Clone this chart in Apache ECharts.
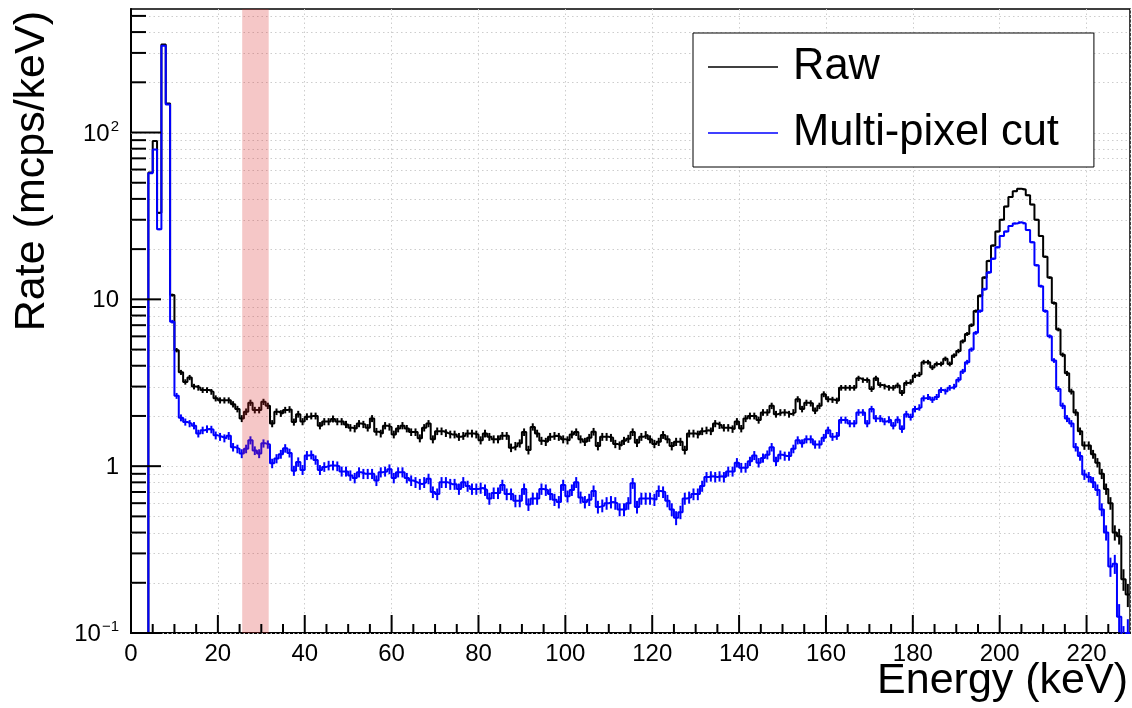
<!DOCTYPE html>
<html>
<head>
<meta charset="utf-8">
<title>Energy spectrum</title>
<script src="https://cdn.jsdelivr.net/npm/echarts@6/dist/echarts.min.js"></script>
<style>
  html, body { margin: 0; padding: 0; background: #ffffff; }
  #chart { width: 1132px; height: 708px; }
</style>
</head>
<body>
<div id="chart"></div>
<script>
// Count rate per 1 keV bin (mcps/keV); bin i covers [i, i+1) keV.
const rawRate = [
  0, 0, 0, 0, 57.5, 89, 33, 337, 149, 10.6,
  4.96, 3.65, 3.2, 3.4, 3.0, 2.95, 2.86, 2.86, 2.79, 2.55,
  2.48, 2.48, 2.48, 2.35, 2.2, 1.93, 2.12, 2.4, 2.17, 2.17,
  2.43, 2.3, 1.8, 2.12, 2.07, 2.17, 2.19, 1.84, 2.05, 1.85,
  1.98, 2.0, 2.0, 1.75, 1.85, 1.85, 1.92, 1.85, 1.85, 1.78,
  1.7, 1.68, 1.8, 1.78, 1.7, 1.93, 1.61, 1.57, 1.75, 1.72,
  1.55, 1.68, 1.75, 1.68, 1.6, 1.6, 1.47, 1.7, 1.8, 1.45,
  1.62, 1.62, 1.58, 1.55, 1.55, 1.5, 1.52, 1.57, 1.57, 1.55,
  1.43, 1.57, 1.5, 1.45, 1.45, 1.52, 1.52, 1.29, 1.32, 1.37,
  1.6, 1.25, 1.72, 1.57, 1.42, 1.4, 1.5, 1.52, 1.5, 1.45,
  1.43, 1.55, 1.6, 1.45, 1.4, 1.48, 1.61, 1.32, 1.5, 1.5,
  1.48, 1.36, 1.33, 1.42, 1.46, 1.6, 1.38, 1.5, 1.54, 1.45,
  1.36, 1.4, 1.54, 1.45, 1.32, 1.4, 1.4, 1.25, 1.57, 1.57,
  1.55, 1.62, 1.64, 1.62, 1.8, 1.76, 1.7, 1.7, 1.67, 1.85,
  1.68, 1.93, 2.0, 2.0, 1.89, 2.1, 2.1, 2.3, 2.05, 2.1,
  2.1, 2.05, 2.1, 2.52, 2.2, 2.4, 2.38, 2.15, 2.3, 2.7,
  2.52, 2.5, 2.47, 2.95, 2.95, 2.95, 2.95, 3.36, 3.28, 3.28,
  2.9, 3.36, 3.07, 3.0, 2.95, 2.95, 3.05, 2.75, 3.15, 3.2,
  3.5, 3.55, 4.2, 4.2, 3.9, 4.1, 4.1, 4.4, 4.1, 4.6,
  4.9, 5.6, 6.2, 7.0, 8.5, 10.5, 13.5, 17, 21, 25.5,
  30, 36, 41, 44.5, 46, 45.5, 42, 37, 30, 24,
  18, 13.5, 9.5, 6.6, 4.65, 3.6, 2.8, 2.1, 1.62, 1.33,
  1.33, 1.18, 1.05, 0.9, 0.73, 0.6, 0.4, 0.38, 0.21, 0.17
];
// Statistical uncertainty per bin, in units of 0.001 mcps/keV.
const rawErr = [
  0, 0, 0, 0, 506, 629, 383, 1224, 814, 217,
  149, 127, 119, 123, 116, 115, 113, 113, 111, 107,
  105, 105, 105, 102, 99, 93, 97, 103, 98, 98,
  104, 101, 89, 97, 96, 98, 99, 90, 96, 91,
  94, 94, 94, 88, 91, 91, 92, 91, 91, 89,
  87, 86, 89, 89, 87, 93, 85, 84, 88, 87,
  83, 86, 88, 86, 84, 84, 81, 87, 89, 80,
  85, 85, 84, 83, 83, 82, 82, 84, 84, 83,
  80, 84, 82, 80, 80, 82, 82, 76, 77, 78,
  84, 75, 87, 84, 79, 79, 82, 82, 82, 80,
  80, 83, 84, 80, 79, 81, 85, 77, 82, 82,
  81, 78, 77, 79, 81, 84, 78, 82, 83, 80,
  78, 79, 83, 80, 77, 79, 79, 75, 84, 84,
  83, 85, 85, 85, 89, 88, 87, 87, 86, 91,
  86, 93, 94, 94, 92, 97, 97, 101, 96, 97,
  97, 96, 97, 106, 99, 103, 103, 98, 101, 110,
  106, 105, 105, 115, 115, 115, 115, 122, 121, 121,
  114, 122, 117, 116, 115, 115, 116, 111, 118, 119,
  125, 126, 137, 137, 132, 135, 135, 140, 135, 143,
  148, 158, 166, 176, 194, 216, 245, 275, 306, 337,
  365, 400, 427, 445, 452, 450, 432, 406, 365, 327,
  283, 245, 206, 171, 144, 127, 112, 97, 85, 77,
  77, 72, 68, 63, 57, 52, 42, 41, 31, 27
];
const cutRate = [
  0, 0, 0, 0, 57, 79, 26.3, 331, 147, 7.35,
  2.64, 1.95, 1.84, 1.8, 1.75, 1.57, 1.64, 1.67, 1.66, 1.53,
  1.5, 1.47, 1.52, 1.3, 1.27, 1.19, 1.27, 1.43, 1.24, 1.19,
  1.37, 1.35, 1.04, 1.11, 1.18, 1.28, 1.2, 0.94, 1.06, 0.95,
  1.16, 1.17, 1.09, 0.95, 0.99, 1.01, 1.01, 1.0, 0.93, 0.93,
  0.88, 0.85, 0.92, 0.9, 0.9, 0.9, 0.82, 0.92, 0.93, 0.96,
  0.85, 0.92, 0.92, 0.85, 0.82, 0.8, 0.78, 0.8, 0.84, 0.7,
  0.68, 0.8, 0.8, 0.78, 0.78, 0.73, 0.8, 0.76, 0.73, 0.73,
  0.74, 0.72, 0.64, 0.69, 0.69, 0.77, 0.68, 0.68, 0.62, 0.62,
  0.73, 0.59, 0.64, 0.64, 0.73, 0.72, 0.68, 0.63, 0.61, 0.77,
  0.66, 0.72, 0.8, 0.65, 0.61, 0.63, 0.71, 0.57, 0.58, 0.6,
  0.61, 0.6, 0.55, 0.55, 0.6, 0.79, 0.57, 0.64, 0.64, 0.64,
  0.63, 0.71, 0.7, 0.62, 0.55, 0.49, 0.53, 0.64, 0.65, 0.68,
  0.68, 0.76, 0.86, 0.87, 0.86, 0.87, 0.86, 0.93, 0.93, 1.05,
  0.98, 0.98, 1.07, 1.16, 1.05, 1.12, 1.17, 1.3, 1.07, 1.17,
  1.15, 1.15, 1.27, 1.43, 1.37, 1.45, 1.45, 1.35, 1.35, 1.48,
  1.64, 1.5, 1.52, 1.89, 1.89, 1.8, 1.8, 2.1, 2.1, 1.8,
  2.2, 1.93, 1.93, 1.85, 1.9, 1.75, 1.9, 1.67, 2.05, 1.97,
  2.2, 2.25, 2.55, 2.6, 2.5, 2.6, 2.86, 2.8, 2.95, 3.0,
  3.3, 3.7, 4.2, 5.0, 6.3, 8.5, 11.5, 14.5, 17.5, 20.5,
  24, 25.5, 27.5, 28.5, 29, 28.5, 26, 22, 16, 12,
  8.5, 6.0, 4.3, 2.9, 2.3, 1.93, 1.8, 1.3, 1.15, 0.89,
  0.86, 0.8, 0.72, 0.55, 0.4, 0.25, 0.26, 0.125, 0.09, 0.1
];
const cutErr = [
  0, 0, 0, 0, 504, 593, 342, 1214, 809, 181,
  108, 93, 90, 89, 88, 84, 85, 86, 86, 83,
  82, 81, 82, 76, 75, 73, 75, 80, 74, 73,
  78, 77, 68, 70, 72, 75, 73, 65, 69, 65,
  72, 72, 70, 65, 66, 67, 67, 67, 64, 64,
  63, 61, 64, 63, 63, 63, 60, 64, 64, 65,
  61, 64, 64, 61, 60, 60, 59, 60, 61, 56,
  55, 60, 60, 59, 59, 57, 60, 58, 57, 57,
  57, 57, 53, 55, 55, 59, 55, 55, 53, 53,
  57, 51, 53, 53, 57, 57, 55, 53, 52, 59,
  54, 57, 60, 54, 52, 53, 56, 50, 51, 52,
  52, 52, 49, 49, 52, 59, 50, 53, 53, 53,
  53, 56, 56, 53, 49, 47, 49, 53, 54, 55,
  55, 58, 62, 62, 62, 62, 62, 64, 64, 68,
  66, 66, 69, 72, 68, 71, 72, 76, 69, 72,
  72, 72, 75, 80, 78, 80, 80, 77, 77, 81,
  85, 82, 82, 92, 92, 89, 89, 97, 97, 89,
  99, 93, 93, 91, 92, 88, 92, 86, 96, 94,
  99, 100, 107, 108, 105, 108, 113, 112, 115, 116,
  121, 128, 137, 149, 167, 194, 226, 254, 279, 302,
  327, 337, 350, 356, 359, 356, 340, 313, 267, 231,
  194, 163, 138, 114, 101, 93, 89, 76, 72, 63,
  62, 60, 57, 49, 42, 33, 34, 24, 20, 21
];

const seriesNames = ['Raw', 'Multi-pixel cut'];
const seriesColors = ['#000000', '#0000ff'];
const xTickValues = [0, 20, 40, 60, 80, 100, 120, 140, 160, 180, 200, 220];
const xMinorStep = 5;
const yMajorTicks = [0.1, 1, 10, 100];
const yMinorTicks = [0.2, 0.3, 0.4, 0.5, 0.6, 0.7, 0.8, 0.9,
                     2, 3, 4, 5, 6, 7, 8, 9,
                     20, 30, 40, 50, 60, 70, 80, 90,
                     200, 300, 400, 500];
const selectedRange = [25.6, 31.7];   // shaded energy window, keV

const BIN_WIDTH = 1;
const X_MIN = 0, X_MAX = 230;
const Y_MIN = 0.1, Y_MAX = 550;
const FONT = '"Liberation Sans", Arial, Helvetica, sans-serif';
const GRID_COLOR = '#cdcdcd';

// Histogram outline: one point per lower bin edge, plus the closing upper edge.
// Empty bins sit on the bottom of the log axis.
function histPoints(rates) {
  const pts = rates.map((v, i) => [X_MIN + i * BIN_WIDTH, v > 0 ? v : Y_MIN]);
  pts.push([X_MIN + rates.length * BIN_WIDTH, pts[pts.length - 1][1]]);
  return pts;
}
// Error bar data at bin centres.
function errPoints(rates, errs) {
  const out = [];
  rates.forEach((v, i) => {
    if (v > 0) out.push([X_MIN + (i + 0.5) * BIN_WIDTH, v, errs[i] / 1000]);
  });
  return out;
}
function errorBarRenderer(color) {
  return function (params, api) {
    const cs = params.coordSys;
    const x = api.value(0), v = api.value(1), e = api.value(2);
    const hi = api.coord([x, v + e]);
    const lo = api.coord([x, Math.max(v - e, Y_MIN * 0.1)]);
    const y1 = Math.max(hi[1], cs.y);
    const y2 = Math.min(lo[1], cs.y + cs.height);
    if (!(y2 > y1)) return null;
    return {
      type: 'line',
      shape: { x1: hi[0], y1: y1, x2: hi[0], y2: y2 },
      style: { stroke: color, lineWidth: 2 }
    };
  };
}

// Tick marks of both axes, pointing into the frame: [axis, value, length]
const xMinorTicks = [];
xTickValues.forEach(t => {
  for (let k = 1; k * xMinorStep < 20; k++) {
    const v = t + k * xMinorStep;
    if (v < X_MAX) xMinorTicks.push(v);
  }
});
const tickMarks = []
  .concat(xTickValues.map(v => [0, v, 18]))
  .concat(xMinorTicks.map(v => [0, v, 9]))
  .concat(yMajorTicks.map(v => [1, v, 30]))
  .concat(yMinorTicks.map(v => [1, v, 15]));

function yLabel(v) {
  const p = Math.log10(v);
  const n = Math.round(p);
  if (Math.abs(p - n) > 1e-6) return '';
  if (n === 0) return '{b|1}';
  if (n === 1) return '{b|10}';
  return '{b|10}{s|' + (n < 0 ? '\u2212' + (-n) : String(n)) + '}';
}

const chart = echarts.init(document.getElementById('chart'), null, { renderer: 'canvas' });

const option = {
  animation: false,
  backgroundColor: '#ffffff',
  grid: {
    left: 131, right: 2, top: 9, bottom: 75,
    show: true, borderColor: '#000000', borderWidth: 1.5,
    backgroundColor: 'transparent',
    containLabel: false, outerBoundsMode: 'none'
  },
  xAxis: {
    type: 'value', min: X_MIN, max: X_MAX, interval: 20,
    axisLine: { show: true, onZero: false, lineStyle: { color: '#000', width: 2 } },
    axisTick: { show: false },
    minorTick: { show: false },
    axisLabel: {
      show: true, margin: 9, color: '#000', fontSize: 24, fontFamily: FONT,
      formatter: v => (xTickValues.indexOf(Math.round(v)) >= 0 && Math.abs(v - Math.round(v)) < 1e-6 ? String(Math.round(v)) : '')
    },
    splitLine: { show: true, lineStyle: { color: GRID_COLOR, width: 1, type: [1.5, 3] } },
    minorSplitLine: { show: false }
  },
  yAxis: {
    type: 'log', logBase: 10, min: Y_MIN, max: Y_MAX,
    axisLine: { show: true, onZero: false, lineStyle: { color: '#000', width: 2 } },
    axisTick: { show: false },
    minorTick: { show: false },
    splitLine: { show: false },
    axisLabel: {
      show: true, margin: 12, color: '#000', fontFamily: FONT, fontSize: 24,
      formatter: yLabel,
      rich: {
        b: { fontSize: 24, fontFamily: FONT, color: '#000', lineHeight: 27, verticalAlign: 'bottom' },
        s: { fontSize: 15, fontFamily: FONT, color: '#000', lineHeight: 15, verticalAlign: 'top', padding: [0, 0, 0, 1] }
      }
    }
  },
  legend: {
    data: seriesNames,
    orient: 'vertical',
    left: 693, top: 33,
    padding: [12, 35, 12, 15],
    itemGap: 22, itemWidth: 70, itemHeight: 1.5,
    icon: 'rect',
    backgroundColor: '#ffffff', borderColor: '#000000', borderWidth: 1,
    selectedMode: false,
    textStyle: { fontSize: 43.5, fontFamily: FONT, color: '#000', padding: [0, 0, 0, 10] }
  },
  graphic: [
    {
      type: 'text', x: 1128, y: 681, silent: true,
      style: { text: 'Energy (keV)', fontSize: 43, fontFamily: FONT, fill: '#000', align: 'right', verticalAlign: 'middle' }
    },
    {
      type: 'text', x: 32, y: 11, rotation: Math.PI / 2, silent: true,
      style: { text: 'Rate (mcps/keV)', fontSize: 43, fontFamily: FONT, fill: '#000', align: 'right', verticalAlign: 'middle' }
    }
  ],
  series: [
    // dotted horizontal grid at every decade and sub-decade tick
    {
      type: 'custom', name: 'y-grid', silent: true, z: 1, clip: false,
      data: yMajorTicks.concat(yMinorTicks).map(v => [X_MIN, v]),
      renderItem: function (params, api) {
        const cs = params.coordSys;
        const y = Math.round(api.coord([X_MIN, api.value(1)])[1]) + 0.5;
        return {
          type: 'line',
          shape: { x1: cs.x, y1: y, x2: cs.x + cs.width, y2: y },
          style: { stroke: GRID_COLOR, lineWidth: 1, lineDash: [1.5, 3] }
        };
      }
    },
    {
      type: 'line', name: seriesNames[0], data: histPoints(rawRate), step: 'end',
      showSymbol: false, symbol: 'none', clip: true, z: 3,
      color: seriesColors[0], itemStyle: { color: seriesColors[0] },
      lineStyle: { color: seriesColors[0], width: 2 }
    },
    {
      type: 'custom', name: 'raw-errors', silent: true, z: 3, clip: true,
      data: errPoints(rawRate, rawErr),
      renderItem: errorBarRenderer(seriesColors[0])
    },
    {
      type: 'line', name: seriesNames[1], data: histPoints(cutRate), step: 'end',
      showSymbol: false, symbol: 'none', clip: true, z: 4,
      color: seriesColors[1], itemStyle: { color: seriesColors[1] },
      lineStyle: { color: seriesColors[1], width: 2 }
    },
    {
      type: 'custom', name: 'cut-errors', silent: true, z: 4, clip: true,
      data: errPoints(cutRate, cutErr),
      renderItem: errorBarRenderer(seriesColors[1])
    },
    // translucent energy window drawn over the spectra
    {
      type: 'custom', name: 'window', silent: true, z: 6, clip: true,
      data: [selectedRange],
      renderItem: function (params, api) {
        const a = api.coord([api.value(0), Y_MAX]);
        const b = api.coord([api.value(1), Y_MIN]);
        return {
          type: 'rect',
          shape: { x: a[0], y: a[1], width: b[0] - a[0], height: b[1] - a[1] },
          style: { fill: 'rgba(215, 40, 40, 0.26)' }
        };
      }
    },
    // axis tick marks (x along the bottom edge, y along the left edge)
    {
      type: 'custom', name: 'ticks', silent: true, z: 7, clip: false,
      data: tickMarks,
      renderItem: function (params, api) {
        const cs = params.coordSys;
        const axis = api.value(0), v = api.value(1), len = api.value(2);
        if (axis === 0) {
          const x = api.coord([v, Y_MIN])[0];
          const yb = cs.y + cs.height;
          return { type: 'line', shape: { x1: x, y1: yb, x2: x, y2: yb - len }, style: { stroke: '#000', lineWidth: 2 } };
        }
        const y = api.coord([X_MIN, v])[1];
        return { type: 'line', shape: { x1: cs.x, y1: y, x2: cs.x + len, y2: y }, style: { stroke: '#000', lineWidth: 2 } };
      }
    }
  ]
};

chart.setOption(option);
</script>
</body>
</html>
